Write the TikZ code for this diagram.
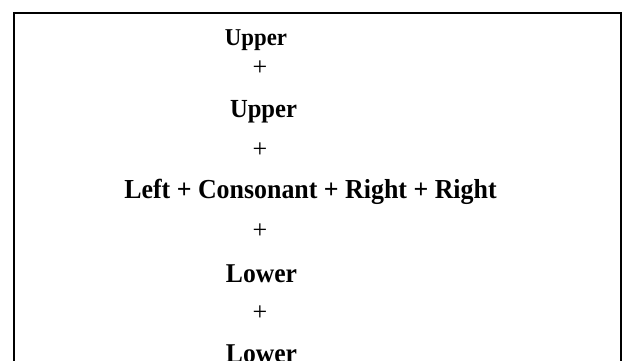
\documentclass[tikz,border=0pt]{standalone}
\usepackage{fontspec}
\usepackage{graphicx}
\setmainfont{Liberation Serif}
\newcommand{\tallbox}[1]{\scalebox{1}[1.06]{#1}}
\begin{document}
\begin{tikzpicture}[x=1pt,y=-1pt,
  lbl/.style={anchor=base, inner sep=0pt, font=\bfseries\fontsize{#1}{#1}\selectfont},
  plussign/.style={anchor=base, inner sep=0pt, font=\fontsize{26}{26}\selectfont},
  frame/.style={draw=black, line width=2pt}]
\useasboundingbox (0,0) rectangle (622,360);
\clip (0,0) rectangle (622,360);
\draw[frame] (14,13) rectangle (621,390);
\node[lbl=22.8] (u1) at (256,45) {\tallbox{Upper}};
\node[plussign] (p1) at (260,75.5) {+};
\node[lbl=24.6] (u2) at (263.5,117) {\tallbox{Upper}};
\node[plussign] (p2) at (260,157.5) {+};
\node[lbl=25.9] (main) at (310.5,198.5) {\tallbox{Left + Consonant + Right + Right}};
\node[plussign] (p3) at (260,238.5) {+};
\node[lbl=25.6] (l1) at (261.5,282) {\tallbox{Lower}};
\node[plussign] (p4) at (260,320.5) {+};
\node[lbl=25.6] (l2) at (261.5,362) {\tallbox{Lower}};
\end{tikzpicture}
\end{document}
